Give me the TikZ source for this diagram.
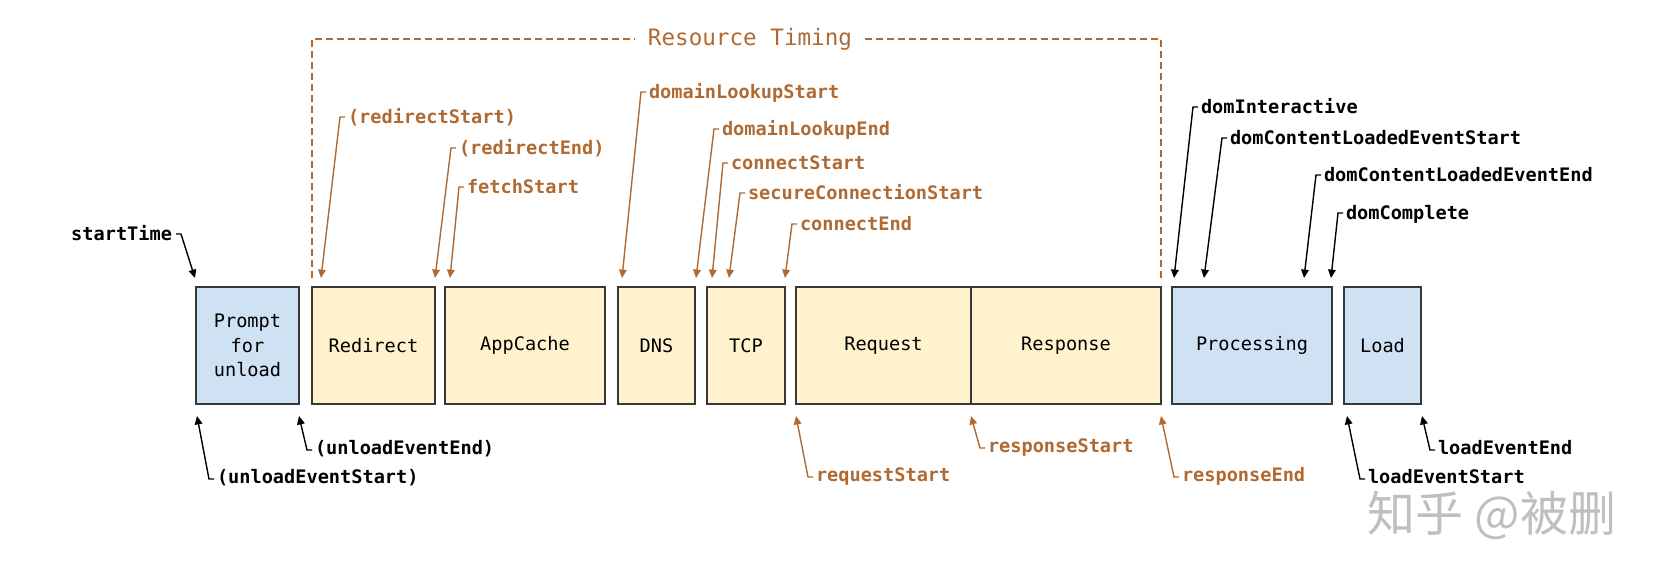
\documentclass[tikz,border=0pt]{standalone}
\usepackage{fontspec}
\setmonofont{DejaVu Sans Mono}
\newfontfamily\cjk{Noto Sans CJK SC}
\usetikzlibrary{arrows.meta,calc}
\definecolor{org}{HTML}{AF6A33}
\definecolor{yel}{HTML}{FFF2CC}
\definecolor{blu}{HTML}{CFE2F3}
\definecolor{bord}{HTML}{383838}
\tikzset{
  phase/.style={draw=bord, line width=0.9pt, inner sep=0pt, outer sep=0pt,
    minimum height=58.5pt, align=center,
    font=\ttfamily\fontsize{9.3}{12.2}\selectfont},
  ybox/.style={phase, fill=yel},
  bbox/.style={phase, fill=blu},
  lab/.style={inner sep=0pt, outer sep=0pt, text height=0.72em, text depth=0.2em,
    font=\ttfamily\bfseries\fontsize{9.3}{11}\selectfont},
  olab/.style={lab, text=org, anchor=west},
  klab/.style={lab, text=black, anchor=west},
  oarr/.style={draw=org, line width=0.7pt, -{Triangle[length=4.2pt,width=3.8pt]}},
  karr/.style={draw=black, line width=0.7pt, -{Triangle[length=4.2pt,width=3.8pt]}},
  bracket/.style={draw=org, line width=0.7pt, dash pattern=on 3.5pt off 2pt}
}
\begin{document}
\begin{tikzpicture}[x=0.5pt,y=-0.5pt]
\useasboundingbox (0,0) rectangle (1662,578);
% phases
\node[bbox, minimum width=51.5pt] (prompt) at (247.5,345.5) {Prompt\\for\\unload};
\node[ybox, minimum width=61.5pt] (redirect) at (373.5,345.5) {Redirect};
\node[ybox, minimum width=80pt] (appcache) at (525,345.5) {AppCache};
\node[ybox, minimum width=38.5pt] (dns) at (656.5,345.5) {DNS};
\node[ybox, minimum width=39pt] (tcp) at (746,345.5) {TCP};
\node[ybox, minimum width=87.5pt] (request) at (883.5,345.5) {Request};
\node[ybox, minimum width=95pt] (response) at (1066,345.5) {Response};
\node[bbox, minimum width=80pt] (processing) at (1252,345.5) {Processing};
\node[bbox, minimum width=38.5pt] (load) at (1382.5,345.5) {Load};
% Resource Timing bracket
\node[fill=white, inner xsep=6.25pt, inner ysep=0pt, text=org,
  font=\ttfamily\fontsize{11.3}{13}\selectfont] (rt) at (750,39) {Resource Timing};
\coordinate (bl) at (312,278);
\coordinate (br) at (1161,278);
\draw[bracket] (bl) |- (rt.west);
\draw[bracket] (rt.east) -| (br);
% arrow tips
\coordinate (t1) at (321,278);
\coordinate (t2) at (435,278);
\coordinate (t3) at (450,278);
\coordinate (t4) at (622,278);
\coordinate (t5) at (696,278);
\coordinate (t6) at (712,278);
\coordinate (t7) at (729,278);
\coordinate (t8) at (785,278);
\coordinate (t9) at (195,278);
\coordinate (t10) at (1174,278);
\coordinate (t11) at (1204,278);
\coordinate (t12) at (1304,278);
\coordinate (t13) at (1331,278);
\coordinate (b14) at (197,416);
\coordinate (b15) at (299,416);
\coordinate (b16) at (796,416);
\coordinate (b17) at (971,416);
\coordinate (b18) at (1161,416);
\coordinate (b19) at (1347,416);
\coordinate (b20) at (1422,416);
% top orange labels
\node[olab] (l1) at (348,118) {(redirectStart)};
\node[olab] (l2) at (459,149) {(redirectEnd)};
\node[olab] (l3) at (467,188) {fetchStart};
\node[olab] (l4) at (649,93) {domainLookupStart};
\node[olab] (l5) at (722,130) {domainLookupEnd};
\node[olab] (l6) at (731,164) {connectStart};
\node[olab] (l7) at (748,194) {secureConnectionStart};
\node[olab] (l8) at (800,225) {connectEnd};
\foreach \i in {1,...,8}{
  \draw[oarr] ($(l\i.west)+(-3,-1)$) -- ++(-5,0) -- (t\i);
}
% top black labels
\node[lab, anchor=east] (l9) at (172,235) {startTime};
\draw[karr] ($(l9.east)+(4,-1)$) -- ++(5,0) -- (t9);
\node[klab] (l10) at (1201,108) {domInteractive};
\node[klab] (l11) at (1230,139) {domContentLoadedEventStart};
\node[klab] (l12) at (1324,176) {domContentLoadedEventEnd};
\node[klab] (l13) at (1346,214) {domComplete};
\foreach \i in {10,...,13}{
  \draw[karr] ($(l\i.west)+(-3,-1)$) -- ++(-5,0) -- (t\i);
}
% bottom labels
\node[klab] (l14) at (217,478) {(unloadEventStart)};
\node[klab] (l15) at (315,449) {(unloadEventEnd)};
\node[olab] (l16) at (816,476) {requestStart};
\node[olab] (l17) at (988,447) {responseStart};
\node[olab] (l18) at (1182,476) {responseEnd};
\node[klab] (l19) at (1368,478) {loadEventStart};
\node[klab] (l20) at (1438,449) {loadEventEnd};
\draw[karr] ($(l14.west)+(-3,1)$) -- ++(-5,0) -- (b14);
\draw[karr] ($(l15.west)+(-3,1)$) -- ++(-5,0) -- (b15);
\draw[oarr] ($(l16.west)+(-3,1)$) -- ++(-5,0) -- (b16);
\draw[oarr] ($(l17.west)+(-3,1)$) -- ++(-5,0) -- (b17);
\draw[oarr] ($(l18.west)+(-3,1)$) -- ++(-5,0) -- (b18);
\draw[karr] ($(l19.west)+(-3,1)$) -- ++(-5,0) -- (b19);
\draw[karr] ($(l20.west)+(-3,1)$) -- ++(-5,0) -- (b20);
% watermark
\node[text=gray!50, inner sep=0pt, font=\cjk\fontsize{24}{24}\selectfont] (wm) at (1492,515) {知乎 @被删};
\end{tikzpicture}
\end{document}
